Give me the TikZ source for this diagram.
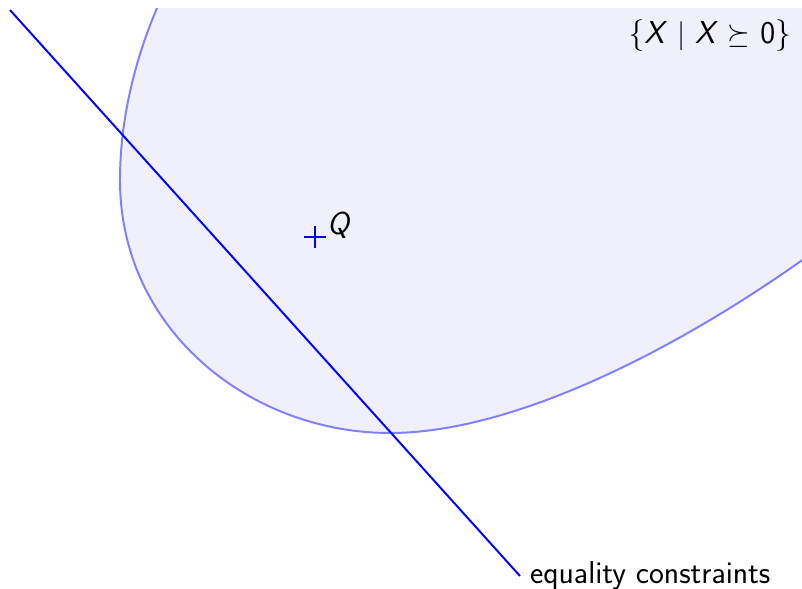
\documentclass[tikz,border=0pt]{standalone}
\usepackage{xcolor}
\usepackage{tikz}

\begin{document}
\begin{tikzpicture}[x=0.025cm, y=-0.025cm, font=\sffamily\fontsize{22.5}{26}\selectfont]

% Colori
\definecolor{colCono}{HTML}{F0F0FC}
\definecolor{colBordo}{HTML}{8080FF}
\definecolor{colRetta}{HTML}{0000FF}

% Riquadro
\useasboundingbox (0,0) rectangle (802,589);

% Cono semidefinito
\begin{scope}
\clip (0,9) rectangle (802,589);
\path[fill=colCono, draw=colBordo, line width=1.4pt]
(170,-20) .. controls (135,50) and (120,120) .. (120,180)
 .. controls (120,330) and (250,433) .. (390,433)
 .. controls (520,433) and (700,340) .. (850,225) -- (850,-20) -- cycle;
\end{scope}

% Punto Q
\coordinate (Q) at (315,237);
\draw[colRetta, line width=1.3pt] (Q) ++(-11,0) -- ++(22,0);
\draw[colRetta, line width=1.3pt] (Q) ++(0,-11) -- ++(0,22);
\node[inner sep=0pt] (Qlab) at (339,225) {\textit{Q}};

% Insieme
\node[anchor=east] (psd) at (796,36) {\{\textit{X} $\mid$ \textit{X} $\succeq$ 0\}};

% Vincoli di uguaglianza
\coordinate (rA) at (10,10);
\node[anchor=west, inner xsep=7pt] (eq) at (520,576) {equality constraints};
\draw[colRetta, line width=1.4pt] (rA) -- (eq.west);

\end{tikzpicture}
\end{document}
